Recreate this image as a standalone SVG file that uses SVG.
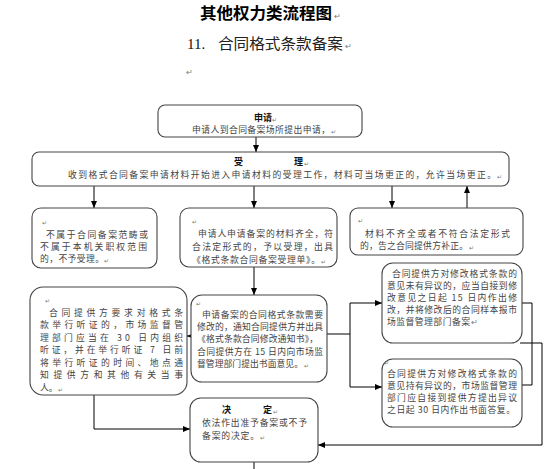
<svg xmlns="http://www.w3.org/2000/svg" width="550" height="469" viewBox="0 0 550 469">
<defs>
<marker id="ah" markerWidth="7" markerHeight="6" refX="7" refY="3" orient="auto" markerUnits="userSpaceOnUse">
<path d="M0,0 L7,3 L0,6 Z" fill="#000"/>
</marker>
<style>
.box{fill:#fff;stroke:#444;stroke-width:1.1}
.t{font-family:"Noto Sans CJK SC","Liberation Sans",sans-serif;font-size:8.8px;fill:#444}
.h{font-family:"Noto Sans CJK SC","Liberation Sans",sans-serif;font-size:9px;font-weight:bold;fill:#111}
.m{font-family:"Noto Sans CJK SC","Liberation Sans",sans-serif;font-size:6px;fill:#777}
.c{fill:none;stroke:#000;stroke-width:1}
.a{fill:none;stroke:#000;stroke-width:1;marker-end:url(#ah)}
</style>
</defs>
<rect width="550" height="469" fill="#fff"/>
<g id="title">
<text x="200" y="19" textLength="132" lengthAdjust="spacingAndGlyphs" style="font-family:'Noto Sans CJK SC',sans-serif;font-size:16px;font-weight:bold;fill:#000">其他权力类流程图</text>
<text x="334" y="19" class="m" style="font-size:8px">↵</text>
<text x="187" y="49" style="font-family:'Liberation Serif','Noto Sans CJK SC',serif;font-size:15px;fill:#111">11.</text>
<text x="218" y="49" textLength="125" lengthAdjust="spacingAndGlyphs" style="font-family:'Noto Sans CJK SC',sans-serif;font-size:15px;fill:#222">合同格式条款备案</text>
<text x="345" y="49" class="m" style="font-size:8px">↵</text>
<text x="186" y="75" class="m" style="font-size:8px">↵</text>
</g>
<g id="connectors">
<line class="a" x1="256" y1="137" x2="256" y2="152"/>
<line class="a" x1="94" y1="186" x2="94" y2="208"/>
<line class="a" x1="254" y1="186" x2="254" y2="208"/>
<line class="a" x1="392" y1="186" x2="392" y2="208"/>
<line class="a" x1="467" y1="208" x2="467" y2="186"/>
<line class="a" x1="254" y1="267" x2="254" y2="295"/>
<line class="a" x1="191" y1="336" x2="187" y2="336"/>
<polyline class="c" points="327,334 350,334"/>
<polyline class="c" points="350,303 350,387"/>
<line class="a" x1="350" y1="303" x2="382" y2="303"/>
<line class="a" x1="350" y1="387" x2="382" y2="387"/>
<polyline class="c" points="522,303 532,303 532,385 517,385"/>
<polyline class="a" points="520,343 542,343 542,445 318,445"/>
<polyline class="a" points="94,395 94,429 190,429"/>
<line class="c" x1="254" y1="462" x2="254" y2="469"/>
</g>
<g id="apply">
<rect class="box" x="158" y="105" width="204" height="32" rx="7"/>
<text class="h" x="254" y="121">申请</text><text class="m" x="272" y="122">↵</text>
<text class="t" x="192" y="133" textLength="138" lengthAdjust="spacing">申请人到合同备案场所提出申请，</text><text class="m" x="331" y="134">↵</text>
</g>
<g id="accept">
<rect class="box" x="32" y="152" width="477" height="34" rx="7"/>
<text class="h" x="234" y="165">受</text><text class="h" x="294" y="165">理</text><text class="m" x="304" y="166">↵</text>
<text class="t" x="68" y="178" textLength="428" lengthAdjust="spacing">收到格式合同备案申请材料开始进入申请材料的受理工作，材料可当场更正的，允许当场更正。</text><text class="m" x="497" y="179">↵</text>
</g>
<g id="reject">
<rect class="box" x="32" y="208" width="125" height="60" rx="9"/>
<text class="m" x="42" y="225">↵</text>
<text class="t" x="46" y="238" textLength="102" lengthAdjust="spacing">不属于合同备案范畴或</text>
<text class="t" x="40" y="250" textLength="107" lengthAdjust="spacing">不属于本机关职权范围</text>
<text class="t" x="40" y="262" textLength="64" lengthAdjust="spacing">的，不予受理。</text><text class="m" x="104" y="263">↵</text>
</g>
<g id="complete">
<rect class="box" x="180" y="208" width="157" height="59" rx="9"/>
<text class="m" x="192" y="224">↵</text>
<text class="t" x="198" y="237" textLength="135" lengthAdjust="spacing">申请人申请备案的材料齐全，符</text>
<text class="t" x="192" y="250" textLength="141" lengthAdjust="spacing">合法定形式的，予以受理，出具</text>
<text class="t" x="192" y="263" textLength="128" lengthAdjust="spacing">《格式条款合同备案受理单》。</text><text class="m" x="321" y="264">↵</text>
</g>
<g id="incomplete">
<rect class="box" x="350" y="208" width="173" height="47" rx="8"/>
<text class="m" x="358" y="223">↵</text>
<text class="t" x="365" y="237" textLength="145" lengthAdjust="spacing">材料不齐全或者不符合法定形式</text>
<text class="t" x="360" y="249" textLength="108" lengthAdjust="spacing">的，告之合同提供方补正。</text><text class="m" x="469" y="250">↵</text>
</g>
<g id="hearing">
<rect class="box" x="30" y="287" width="157" height="108" rx="13"/>
<text class="m" x="45" y="303">↵</text>
<text class="t" x="49" y="316" textLength="134" lengthAdjust="spacing">合同提供方要求对格式条</text>
<text class="t" x="40" y="328" textLength="143" lengthAdjust="spacing">款举行听证的，市场监督管</text>
<text class="t" x="40" y="341" textLength="143" lengthAdjust="spacing">理部门应当在 30 日内组织</text>
<text class="t" x="40" y="353" textLength="143" lengthAdjust="spacing">听证，并在举行听证 7 日前</text>
<text class="t" x="40" y="366" textLength="143" lengthAdjust="spacing">将举行听证的时间、地点通</text>
<text class="t" x="40" y="378" textLength="143" lengthAdjust="spacing">知提供方和其他有关当事</text>
<text class="t" x="40" y="391">人。</text><text class="m" x="58" y="392">↵</text>
</g>
<g id="modify">
<rect class="box" x="191" y="295" width="136" height="87" rx="11"/>
<text class="m" x="196" y="306">↵</text>
<text class="t" x="202" y="318" textLength="121" lengthAdjust="spacing">申请备案的合同格式条款需要</text>
<text class="t" x="197" y="330" textLength="126" lengthAdjust="spacing">修改的，通知合同提供方并出具</text>
<text class="t" x="197" y="342" textLength="121" lengthAdjust="spacing">《格式条款合同修改通知书》，</text>
<text class="t" x="197" y="355" textLength="126" lengthAdjust="spacing">合同提供方在 15 日内向市场监</text>
<text class="t" x="197" y="367" textLength="106" lengthAdjust="spacing">督管理部门提出书面意见。</text><text class="m" x="304" y="368">↵</text>
</g>
<g id="no-objection">
<rect class="box" x="382" y="263" width="140" height="80" rx="11"/>
<text class="t" x="392" y="277" textLength="125" lengthAdjust="spacing">合同提供方对修改格式条款的</text>
<text class="t" x="387" y="289" textLength="130" lengthAdjust="spacing">意见未有异议的，应当自接到修</text>
<text class="t" x="387" y="301" textLength="130" lengthAdjust="spacing">改意见之日起 15 日内作出修</text>
<text class="t" x="387" y="313" textLength="130" lengthAdjust="spacing">改，并将修改后的合同样本报市</text>
<text class="t" x="387" y="325" textLength="83" lengthAdjust="spacing">场监督管理部门备案</text><text class="m" x="471" y="325" style="font-size:8px">↵</text>
</g>
<g id="objection">
<rect class="box" x="382" y="359" width="140" height="68" rx="11"/>
<text class="m" x="384" y="365">↵</text>
<text class="t" x="387" y="377" textLength="130" lengthAdjust="spacing">合同提供方对修改格式条款的</text>
<text class="t" x="387" y="389" textLength="130" lengthAdjust="spacing">意见持有异议的，市场监督管理</text>
<text class="t" x="387" y="401" textLength="130" lengthAdjust="spacing">部门应自接到提供方提出异议</text>
<text class="t" x="387" y="413" textLength="128" lengthAdjust="spacing">之日起 30 日内作出书面答复。</text>
</g>
<g id="decision">
<rect class="box" x="190" y="398" width="128" height="64" rx="11"/>
<text class="h" x="222" y="413">决</text><text class="h" x="263" y="413">定</text><text class="m" x="273" y="414">↵</text>
<text class="t" x="202" y="426" textLength="105" lengthAdjust="spacing">依法作出准予备案或不予</text>
<text class="t" x="202" y="439" textLength="57" lengthAdjust="spacing">备案的决定。</text><text class="m" x="260" y="440">↵</text>
</g>
</svg>
